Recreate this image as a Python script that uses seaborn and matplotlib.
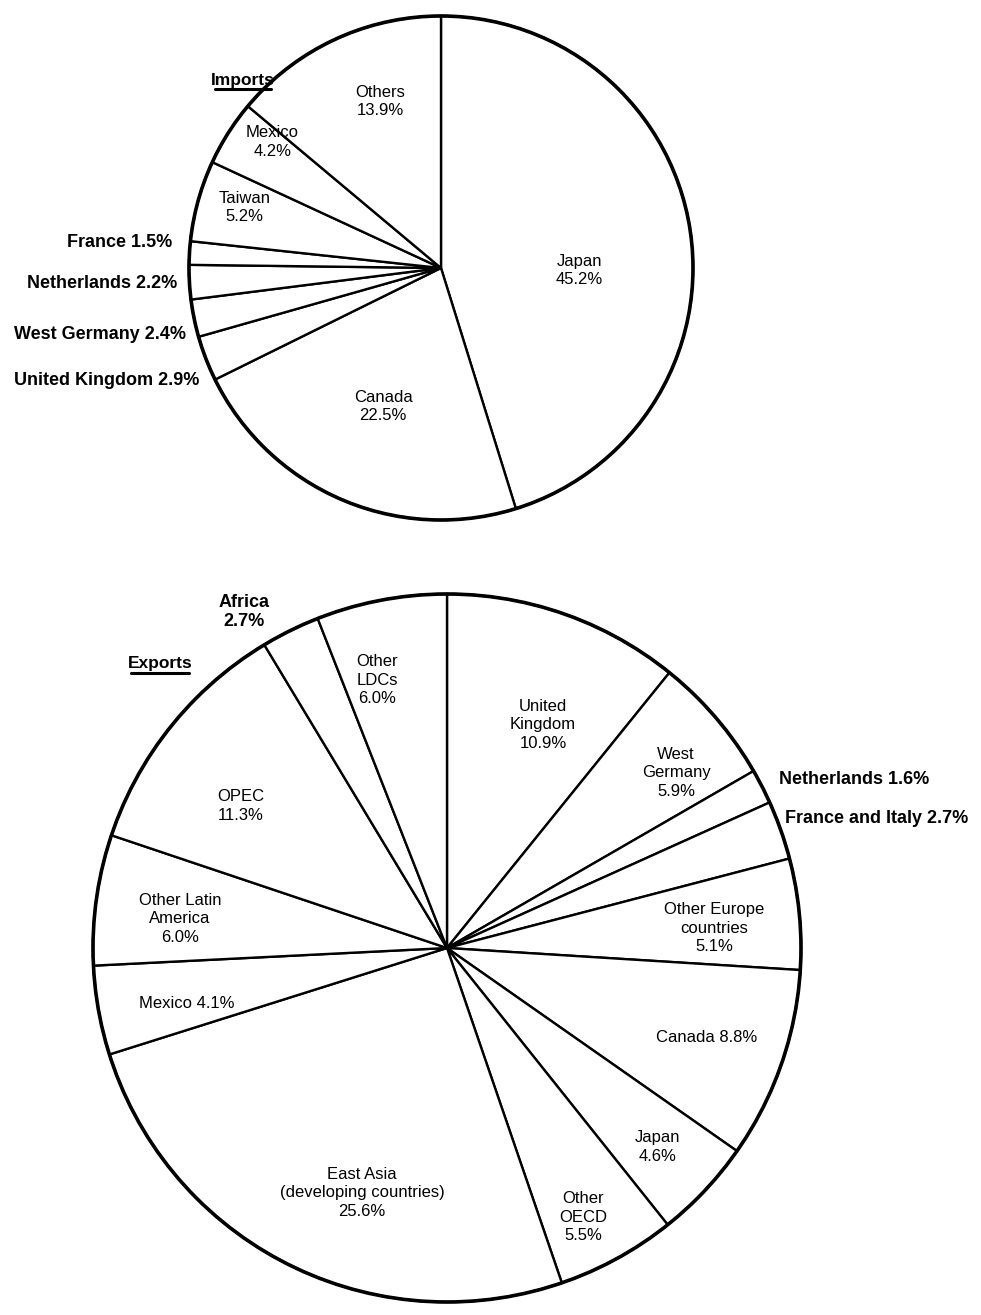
import numpy as np
import matplotlib
matplotlib.use("Agg")
import matplotlib.pyplot as plt
import seaborn as sns

# data (clockwise from 12 o'clock)
import_names = ['Japan', 'Canada', 'United Kingdom', 'West Germany', 'Netherlands',
                'France', 'Taiwan', 'Mexico', 'Others']
import_share = [45.2, 22.5, 2.9, 2.4, 2.2, 1.5, 5.2, 4.2, 13.9]

export_names = ['United\nKingdom', 'West\nGermany', 'Netherlands', 'France and Italy',
                'Other Europe\ncountries', 'Canada', 'Japan', 'Other\nOECD',
                'East Asia\n(developing countries)', 'Mexico', 'Other Latin\nAmerica',
                'OPEC', 'Africa', 'Other\nLDCs']
export_share = [10.9, 5.9, 1.6, 2.7, 5.1, 8.8, 4.6, 5.5, 25.6, 4.1, 6.0, 11.3, 2.7, 6.0]

# label layout (in pie-radius units, relative to the centre)
imp_pos = [(0.55, -0.01), (-0.23, -0.55), (-0.96, -0.448), (-1.012, -0.262),
           (-1.048, -0.063), (-1.067, 0.103), (-0.78, 0.24), (-0.67, 0.50), (-0.24, 0.66)]
imp_align = ['in', 'in', 'right', 'right', 'right', 'right', 'in', 'in', 'in']
exp_pos = [(0.271, 0.630), (0.647, 0.495), (0.938, 0.477), (0.955, 0.367),
           (0.754, 0.056), (0.734, -0.254), (0.596, -0.562), (0.384, -0.760),
           (-0.24, -0.692), (-0.734, -0.158), (-0.754, 0.082), (-0.582, 0.401),
           (-0.574, 0.949), (-0.198, 0.757)]
exp_align = ['in', 'in', 'left', 'left', 'in', 'in', 'in', 'in', 'in', 'in',
             'in', 'in', 'center', 'in']
exp_oneline = ['Canada', 'Mexico']

sns.set_style("white")
plt.rcParams['font.family'] = ['Liberation Sans', 'DejaVu Sans']
plt.rcParams['text.color'] = 'black'

W, H = 981, 1315
fig = plt.figure(figsize=(W / 100, H / 100), dpi=100)


def pie_axes(cx, cy, r, pad=1.1):
    # square axes so the pie sits at pixel centre (cx, cy)
    ycen = H - cy
    ax = fig.add_axes([(cx - pad * r) / W, (ycen - pad * r) / H,
                       2 * pad * r / W, 2 * pad * r / H])
    return ax, pad


def draw_pie(ax, pad, values, names, pos, align, title, title_xy, oneline=()):
    ax.pie(values, startangle=90, counterclock=False, colors=['white'] * len(values),
           wedgeprops=dict(edgecolor='black', linewidth=1.7))
    ax.add_patch(plt.Circle((0, 0), 1, fill=False, edgecolor='black', lw=2.6))
    ax.set_xlim(-pad, pad)
    ax.set_ylim(-pad, pad)
    ax.set_aspect('equal')
    ax.axis('off')
    for name, v, (x, y), al in zip(names, values, pos, align):
        if al == 'in':
            sep = ' ' if name in oneline else '\n'
            ax.text(x, y, f"{name}{sep}{v:.1f}%", ha='center', va='center',
                    fontsize=12, linespacing=1.3)
        else:
            sep = '\n' if al == 'center' else ' '
            ax.text(x, y, f"{name}{sep}{v:.1f}%", ha=al, va='center', fontsize=13,
                    fontweight='bold', linespacing=1.15)
    tx, ty = title_xy
    ax.text(tx, ty, title, ha='center', va='center', fontsize=12.5, fontweight='bold')


ax1, p1 = pie_axes(441, 268, 252)
draw_pie(ax1, p1, import_share, import_names, imp_pos, imp_align, 'Imports', (-0.786, 0.746))
ax1.plot([-0.897, -0.675], [0.71, 0.71], color='black', lw=2.2)

ax2, p2 = pie_axes(447, 948, 354)
draw_pie(ax2, p2, export_share, export_names, exp_pos, exp_align, 'Exports', (-0.811, 0.805),
         oneline=exp_oneline)
ax2.plot([-0.893, -0.728], [0.777, 0.777], color='black', lw=2.2)

fig.savefig('out.png', dpi=100)
